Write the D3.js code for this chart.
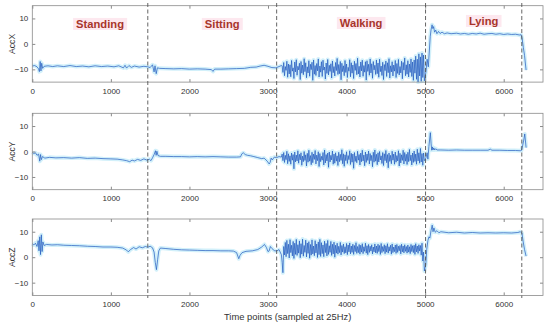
<!DOCTYPE html>
<html>
<head>
<meta charset="utf-8">
<script src="https://cdn.jsdelivr.net/npm/d3@7"></script>
<style>
  body { margin: 0; background: #fff; }
  svg { display: block; font-family: "Liberation Sans", Arial, sans-serif; }
  .tick text { fill: #333; font-size: 8px; }
  .tick line { stroke: #8a8a8a; }
</style>
</head>
<body>
<div id="chart"></div>
<script>

// activity boundaries (time points) and names
var activities = ["Standing", "Sitting", "Walking", "Lying"]
var boundaries = [1470, 3110, 5005, 6230]

var xTicks = [0, 1000, 2000, 3000, 4000, 5000, 6000]
var yTicks = [-10, 0, 10]

// walking part is read at a fixed step, the rest as [time, value] pairs
var walkStart = 3180
var walkStep = 10

//---- AccX
var accXRest = [[0,-8.7],[30,-8.5],[60,-9.0],[80,-9.8],[90,-10.9],[100,-6.9],[110,-10.6],[120,-7.6],[132,-9.6],[150,-8.8],
  [200,-8.6],[260,-8.9],[320,-8.6],[400,-8.9],[480,-8.5],[560,-8.9],[640,-8.7],[720,-9.0],[800,-8.6],[880,-8.9],
  [960,-8.7],[1040,-9.0],[1100,-8.6],[1160,-9.4],[1180,-8.4],[1200,-9.5],[1230,-8.5],[1260,-9.2],[1300,-8.7],[1360,-9.1],
  [1420,-8.8],[1470,-9.0],[1500,-9.3],[1530,-8.2],[1550,-11.0],[1562,-8.6],[1577,-11.7],[1592,-9.4],[1620,-9.6],[1700,-9.7],
  [1800,-9.8],[1900,-9.7],[2000,-9.9],[2100,-9.8],[2200,-9.9],[2280,-10.1],[2300,-10.8],[2320,-9.9],[2400,-9.9],[2500,-9.8],
  [2600,-9.7],[2700,-9.6],[2780,-9.2],[2850,-9.1],[2900,-8.7],[2950,-8.4],[3000,-8.8],[3050,-9.3],[3100,-9.4],[3140,-8.9],[3170,-8.5]]

var accXWalk = [-8.6,-11.2,-7.3,-12.5,-8.9,-10.4,-6.8,-13.1,-7.9,-11.8,
  -8.2,-12.9,-6.5,-10.7,-9.4,-13.6,-7.1,-11.0,-6.2,-12.3,
  -8.8,-10.2,-7.6,-14.0,-6.9,-11.5,-8.3,-12.1,-5.8,-10.9,
  -7.4,-13.3,-9.0,-11.4,-6.6,-12.7,-8.0,-10.1,-7.2,-14.3,
  -6.3,-11.9,-8.5,-12.4,-7.7,-10.6,-5.9,-13.0,-8.7,-11.1,
  -7.0,-12.8,-6.4,-10.3,-9.1,-13.8,-7.5,-11.6,-6.1,-12.2,
  -8.4,-10.8,-7.8,-13.4,-6.7,-11.3,-8.9,-12.6,-7.3,-10.5,
  -5.7,-12.0,-8.1,-11.7,-6.9,-14.1,-7.6,-10.9,-8.6,-12.5,
  -6.5,-11.2,-7.9,-13.2,-9.2,-10.7,-6.2,-12.9,-7.4,-11.5,
  -8.3,-13.6,-6.8,-10.4,-7.7,-12.1,-5.6,-11.8,-8.8,-13.0,
  -7.1,-10.6,-6.4,-12.7,-8.5,-11.1,-7.0,-14.2,-6.6,-10.8,
  -8.0,-12.3,-5.9,-11.4,-7.8,-13.5,-6.9,-10.2,-8.4,-12.0,
  -6.3,-11.7,-7.5,-13.1,-6.0,-10.9,-8.7,-12.4,-7.2,-14.0,
  -8.1,-10.5,-6.7,-12.8,-7.4,-11.3,-5.8,-13.4,-8.6,-11.0,
  -7.0,-12.6,-8.3,-10.7,-6.5,-13.2,-7.7,-11.6,-6.1,-12.2,
  -8.9,-11.4,-6.8,-13.7,-7.3,-10.3,-5.5,-12.5,-8.2,-11.9,
  -6.6,-13.0,-7.9,-11.2,-5.9,-12.8,-7.1,-14.3,-6.3,-11.5,
  -4.8,-13.9,-6.0,-15.0,-3.9,-12.6,-5.1,-14.7,-3.6,-13.2,
  -4.4,-14.5]

var accXLie = [[5010,-11],[5025,-6],[5040,-9],[5055,-2],[5065,3],[5075,5.5],[5088,7.5],[5098,6],[5108,6.8],[5120,4.6],
  [5135,5.4],[5150,4.0],[5170,4.9],[5190,4.1],[5215,4.6],[5245,4.0],[5280,4.3],[5330,4.0],[5400,4.2],[5450,3.9],
  [5500,4.1],[5550,3.8],[5600,4.1],[5650,3.9],[5700,4.2],[5750,3.8],[5800,4.0],[5850,4.1],[5900,3.8],[5950,4.0],
  [6000,3.7],[6050,3.9],[6100,3.7],[6150,3.8],[6200,3.5],[6222,3.6],[6235,2.0],[6250,-1.5],[6265,-4.5],[6275,-7.5],[6285,-10.3]]

//---- AccY
var accYRest = [[0,-0.3],[20,-0.8],[40,-0.5],[60,-1.5],[80,-1.0],[95,-3.8],[105,-1.2],[115,-3.2],[130,-2.0],[160,-2.6],
  [220,-2.3],[300,-2.5],[400,-2.4],[500,-2.6],[600,-2.4],[700,-2.7],[800,-2.6],[900,-2.8],[1000,-2.9],[1080,-3.0],
  [1150,-3.3],[1200,-3.6],[1240,-4.0],[1270,-3.4],[1300,-3.7],[1340,-3.1],[1380,-3.5],[1420,-2.9],[1460,-3.4],[1490,-3.0],
  [1510,-3.6],[1530,-2.5],[1550,-1.2],[1568,0.3],[1576,-1.5],[1586,0.1],[1600,-1.6],[1630,-1.9],[1700,-1.9],[1800,-2.0],
  [1900,-2.0],[2000,-2.1],[2100,-2.0],[2200,-2.1],[2300,-2.0],[2400,-2.1],[2500,-2.2],[2600,-2.2],[2650,-2.1],[2667,-0.9],
  [2685,-0.5],[2710,-1.2],[2740,-1.5],[2780,-1.7],[2820,-2.0],[2870,-2.4],[2920,-2.8],[2950,-2.6],[2990,-3.8],[3015,-4.9],
  [3028,-4.2],[3040,-2.6],[3055,-3.3],[3080,-2.2],[3110,-2.4],[3140,-2.0],[3170,-2.2]]

var accYWalk = [-1.0,-3.6,-0.4,-4.3,-1.5,-3.2,0.1,-4.8,-0.9,-3.9,
  -1.7,-5.0,-0.6,-3.4,-1.2,-6.8,-0.2,-4.1,-1.4,-3.7,
  0.3,-4.6,-1.1,-3.3,-0.5,-5.4,-1.8,-4.0,0.0,-3.5,
  -1.3,-5.7,-0.7,-4.2,0.5,-3.8,-1.6,-5.2,-0.3,-4.4,
  -1.0,-3.1,0.4,-4.9,-1.4,-3.6,-0.1,-5.9,-0.8,-4.0,
  -1.9,-3.4,-0.4,-5.3,0.6,-4.5,-1.2,-3.7,-0.6,-6.2,
  -0.2,-4.1,-1.5,-3.3,0.2,-5.0,-1.0,-4.6,-0.5,-3.8,
  -1.7,-5.5,-0.3,-4.0,-1.1,-3.5,0.7,-4.8,-0.9,-5.8,
  -1.3,-3.6,-0.1,-4.7,-1.6,-3.2,0.3,-5.1,-0.7,-4.2,
  -1.0,-6.6,-0.4,-3.9,-1.8,-4.4,0.1,-3.4,-1.2,-5.3,
  -0.6,-4.0,0.5,-3.7,-1.4,-5.6,-0.2,-4.3,-1.0,-3.5,
  0.2,-4.9,-0.8,-3.6,-1.5,-6.0,-0.3,-4.2,0.6,-3.8,
  -1.1,-5.2,-0.5,-4.1,0.0,-3.3,-1.7,-4.7,-0.4,-5.5,
  -0.9,-3.6,0.4,-4.4,-1.2,-6.4,-0.6,-3.9,-1.5,-4.8,
  0.1,-3.4,-1.0,-5.0,-0.2,-4.2,-1.6,-3.7,0.3,-5.7,
  -0.7,-4.5,-1.3,-3.5,0.5,-4.9,-0.4,-3.8,-1.1,-5.1,
  -0.3,-4.0,0.8,-3.6,-1.4,-5.3,-0.6,-4.3,0.2,-3.9,
  -1.0,-5.0,0.9,-3.7,-0.5,-4.6,1.2,-4.1,-0.8,-5.4,
  -0.6,-3.6]

var accYLie = [[5010,-2.5],[5025,-0.5],[5035,-3],[5048,2],[5066,7.4],[5076,3],[5084,0.5],[5092,1.8],[5100,0.6],[5110,1.4],
  [5122,0.6],[5135,1.1],[5150,0.6],[5200,0.6],[5300,0.5],[5400,0.6],[5500,0.5],[5600,0.5],[5700,0.5],[5800,0.5],
  [5830,0.9],[5850,0.5],[5950,0.5],[6050,0.4],[6150,0.4],[6210,0.3],[6225,0.4],[6240,2.2],[6255,4.5],[6268,6.9],[6285,1.5]]

//---- AccZ
var accZRest = [[0,5.3],[20,4.8],[40,5.5],[60,4.2],[75,6.5],[85,2.5],[95,8.0],[105,1.0],[115,8.8],[125,2.2],
  [135,6.0],[150,4.6],[180,5.0],[250,4.8],[320,4.9],[400,4.7],[500,4.6],[600,4.5],[700,4.3],[800,4.2],
  [900,4.0],[1000,4.0],[1080,3.9],[1150,3.6],[1200,2.8],[1222,2.1],[1250,3.0],[1290,3.8],[1320,3.2],[1360,4.1],
  [1400,3.7],[1440,4.2],[1470,3.9],[1500,4.3],[1530,3.7],[1550,2.0],[1565,-2.0],[1580,-4.9],[1595,-1.0],[1610,2.5],
  [1630,3.6],[1700,3.4],[1800,3.1],[1900,2.9],[2000,2.8],[2100,2.7],[2200,2.6],[2300,2.6],[2400,2.5],[2500,2.5],
  [2560,2.4],[2600,1.8],[2628,-0.6],[2645,0.8],[2670,1.8],[2720,2.3],[2800,2.5],[2870,3.0],[2920,4.0],[2955,5.0],
  [2980,3.8],[3000,2.2],[3015,2.5],[3030,4.2],[3050,3.4],[3080,2.6],[3110,2.4],[3140,3.0],[3170,1.0]]

var accZWalk = [-2.0,-6.1,4.2,0.9,5.8,0.2,6.6,1.4,5.1,-0.3,
  6.9,1.8,4.7,0.5,6.2,-0.5,5.5,1.1,7.0,0.7,
  4.9,1.6,6.4,-0.2,5.3,1.2,7.1,0.4,4.6,1.9,
  6.7,0.1,5.6,1.5,6.1,-0.4,5.0,0.8,6.8,1.3,
  4.4,0.6,6.5,1.7,5.2,-0.1,6.0,1.0,7.0,0.3,
  5.7,1.4,4.8,0.2,6.3,1.8,5.4,0.5,6.6,1.1,
  4.5,1.9,6.2,0.7,5.1,1.3,5.9,0.0,4.7,1.6,
  5.5,1.2,4.3,1.8,5.8,0.9,4.6,2.0,5.2,1.4,
  4.1,1.7,5.4,1.0,4.8,2.1,5.6,1.3,4.4,1.9,
  5.1,1.1,4.6,2.2,5.7,1.5,4.2,1.8,5.0,1.2,
  4.7,2.0,5.3,1.4,4.1,2.3,5.5,1.6,4.5,1.0,
  5.0,1.9,4.3,2.4,4.9,1.3,4.0,2.1,5.2,1.7,
  4.4,1.5,5.1,2.2,4.6,1.1,5.4,1.8,4.2,2.3,
  4.9,1.4,4.5,2.0,5.3,1.6,4.1,2.4,4.7,1.2,
  5.2,1.8,4.0,2.2,4.8,1.5,5.0,1.9,4.3,2.5,
  4.6,1.3,5.1,2.1,4.4,1.7,4.9,2.3,4.2,1.6,
  4.8,2.0,4.1,1.4,5.0,2.2,4.5,1.8,4.7,1.1,
  5.3,2.1,4.4,1.5,4.9,2.4,4.6,0.8,5.5,-1.5,
  2.0,-5.4]

var accZLie = [[5008,-3],[5020,3],[5035,6.5],[5048,8],[5060,7.5],[5075,10.5],[5090,12.6],[5100,10],[5112,11.5],[5128,9.8],
  [5150,10.4],[5175,9.6],[5200,10],[5300,9.6],[5400,9.8],[5500,9.5],[5600,9.7],[5700,9.5],[5800,9.6],[5900,9.5],
  [6000,9.6],[6100,9.5],[6180,9.7],[6213,10.0],[6232,9.4],[6248,6],[6265,3],[6285,0.4]]

var channels = ["AccX", "AccY", "AccZ"]
var restData = [accXRest, accYRest, accZRest]
var walkData = [accXWalk, accYWalk, accZWalk]
var lieData = [accXLie, accYLie, accZLie]

//---- layout
let width = 550;
let height = 331;
let panelTop = [5.7, 113.3, 219]
let panelH = 76.4

let x = d3.scaleLinear().domain([0, 6500]).range([32.3, 543])

var svg = d3.select("#chart").append("svg")
  .attr("width", width)
  .attr("height", height);

let line = d3.line()
  .x(function(d){ return x(d[0]) })

channels.forEach(function(name, i){

  let top = panelTop[i]
  let y = d3.scaleLinear().domain([-15, 15]).range([top + panelH, top])

  let pts = restData[i]
    .concat(walkData[i].map(function(v, k){ return [walkStart + k * walkStep, v] }))
    .concat(lieData[i])

  let g = svg.append("g")

  // light halo behind the signal
  g.append("path")
    .datum(pts)
    .attr("d", line.y(function(d){ return y(d[1]) }))
    .attr("fill", "none")
    .attr("stroke", "#d2f0fa")
    .attr("stroke-width", 4)
    .attr("stroke-linejoin", "round")

  g.append("path")
    .datum(pts)
    .attr("d", line.y(function(d){ return y(d[1]) }))
    .attr("fill", "none")
    .attr("stroke", "#2159bf")
    .attr("stroke-width", 0.7)
    .attr("stroke-linejoin", "round")

  // axes, ticks pointing inward
  g.append("g")
    .attr("transform", "translate(0," + (top + panelH) + ")")
    .call(d3.axisBottom(x).tickValues(xTicks).tickSize(-3).tickPadding(6).tickFormat(d3.format("d")))
    .call(function(a){ a.select(".domain").remove() })

  g.append("g")
    .attr("transform", "translate(0," + top + ")")
    .call(d3.axisTop(x).tickValues(xTicks).tickSize(-3).tickFormat(""))
    .call(function(a){ a.select(".domain").remove() })

  g.append("g")
    .attr("transform", "translate(" + x.range()[0] + ",0)")
    .call(d3.axisLeft(y).tickValues(yTicks).tickSize(-3).tickPadding(4))
    .call(function(a){ a.select(".domain").remove() })

  g.append("g")
    .attr("transform", "translate(" + x.range()[1] + ",0)")
    .call(d3.axisRight(y).tickValues(yTicks).tickSize(-3).tickFormat(""))
    .call(function(a){ a.select(".domain").remove() })

  g.selectAll(".tick text").attr("font-family", null).attr("font-size", null)

  g.append("rect")
    .attr("x", x.range()[0]).attr("y", top)
    .attr("width", x.range()[1] - x.range()[0]).attr("height", panelH)
    .attr("fill", "none")
    .attr("stroke", "#8a8a8a")
    .attr("stroke-width", 0.8)

  g.append("text")
    .attr("transform", "translate(12," + (top + panelH / 2) + ") rotate(-90)")
    .attr("text-anchor", "middle")
    .attr("dy", "0.35em")
    .style("font-size", "8.6px")
    .style("fill", "#333")
    .text(name)
})

// dashed activity boundaries across all panels
svg.selectAll(".bound")
  .data(boundaries)
  .join("line")
  .attr("class", "bound")
  .attr("x1", function(d){ return x(d) }).attr("x2", function(d){ return x(d) })
  .attr("y1", 3).attr("y2", 298)
  .attr("stroke", "#555")
  .attr("stroke-width", 0.9)
  .attr("stroke-dasharray", "4,2.5")

// activity labels, centred a bit right of each segment middle
let labelY = [24, 24, 23, 21]
let starts = [0].concat(boundaries.slice(0, 3))
let labels = svg.append("g")
activities.forEach(function(a, i){
  let cx = (x(starts[i]) + x(boundaries[i])) / 2 + 10
  let lg = labels.append("g")
  let bg = lg.append("rect").attr("fill", "#fde8ef")
  let t = lg.append("text")
    .attr("x", cx).attr("y", labelY[i])
    .attr("text-anchor", "middle")
    .attr("dy", "0.35em")
    .style("font-size", "11.2px")
    .style("font-weight", "bold")
    .style("fill", "#a8352b")
    .text(a)
  let bb = t.node().getBBox()
  bg.attr("x", bb.x - 3).attr("y", bb.y)
    .attr("width", bb.width + 6).attr("height", bb.height)
})

svg.append("text")
  .attr("x", (x.range()[0] + x.range()[1]) / 2)
  .attr("y", 320)
  .attr("text-anchor", "middle")
  .style("font-size", "9.4px")
  .style("fill", "#333")
  .text("Time points (sampled at 25Hz)")

</script>
</body>
</html>
